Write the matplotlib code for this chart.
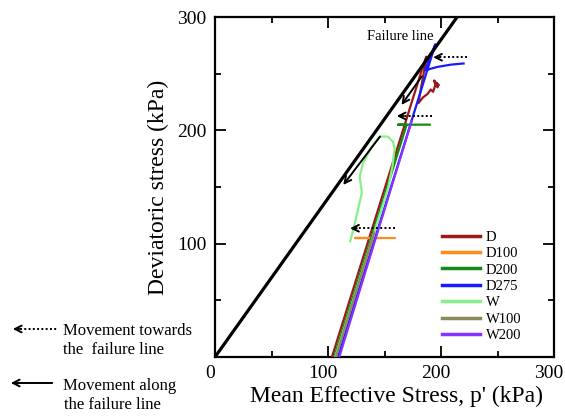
import matplotlib
matplotlib.use("Agg")
import matplotlib.pyplot as plt
from matplotlib.transforms import ScaledTranslation

# ---- data (p', q in kPa) ----
D_p = [103.5, 182, 184, 187, 185, 181, 180, 184, 188, 191, 193, 195, 194, 197, 196, 198]
D_q = [0, 250, 257, 265, 252, 230, 224, 229, 232, 236, 234, 240, 244, 238, 242, 240]

D100_p = [107.5, 140, 124, 159]
D100_q = [0, 105, 105, 105]

D200_p = [105.5, 169.6, 162, 190]
D200_q = [0, 205, 205, 205]

D275_p = [109, 195, 190, 186, 197, 209, 220]
D275_q = [0, 276, 264, 253, 256, 258, 259]

W_p = [106.5, 153.4, 157, 158.5, 159, 157.5, 153, 146, 138.6, 131, 128, 130, 126.5, 122, 119.5]
W_q = [0, 150, 168, 180, 184, 190, 194.5, 194.5, 185.6, 171, 159, 145, 130, 110.6, 102]

W100_p = [107, 141]
W100_q = [0, 110]

W200_p = [110, 174]
W200_q = [0, 208]

series = [
    ("D", D_p, D_q, "#9a1a1a"),
    ("D100", D100_p, D100_q, "#ff8c1a"),
    ("D200", D200_p, D200_q, "#138a13"),
    ("D275", D275_p, D275_q, "#1a1aff"),
    ("W", W_p, W_q, "#88f088"),
    ("W100", W100_p, W100_q, "#8b8b5a"),
    ("W200", W200_p, W200_q, "#8833ff"),
]

M = 1.4  # failure line slope q/p'
fail_p = [0, 300 / M]
fail_q = [0, 300]

dotted_arrows = [((222.7, 264.5), (193, 264.5)),
                 ((191.7, 212.7), (160.8, 212.7)),
                 ((159, 113.6), (119.5, 113.6))]
solid_arrows = [((183, 247.6), (165, 222.4)),
                ((146, 194.5), (113.5, 151.8))]

xticks = [0, 100, 200, 300]
yticks = [0, 100, 200, 300]

plt.rcParams['font.family'] = ['Liberation Serif', 'DejaVu Serif']

fig = plt.figure(figsize=(5.65, 4.17), dpi=100)
ax = fig.add_axes([215 / 565, 1 - 357 / 417, (554 - 215) / 565, (357 - 17) / 417])

ax.plot(fail_p, fail_q, color="black", lw=2.3, solid_capstyle="butt", zorder=5)
for name, p, q, c in series:
    ax.plot(p, q, color=c, lw=1.6, label=name, zorder=3)

ax.text(163.7, 282.4, "Failure line", fontsize=10.5, ha="center", va="center", zorder=6)

for (x0, y0), (x1, y1) in dotted_arrows:
    ax.plot([x0, x1 + 3], [y0, y1], color="black", lw=1.4, ls=(0, (1, 1.2)), zorder=6)
    ax.annotate("", xy=(x1, y1), xytext=(x1 + 6, y1),
                arrowprops=dict(arrowstyle="->", lw=1.4, color="black",
                                mutation_scale=12, shrinkA=0, shrinkB=0), zorder=6)
for (x0, y0), (x1, y1) in solid_arrows:
    ax.annotate("", xy=(x1, y1), xytext=(x0, y0),
                arrowprops=dict(arrowstyle="->", lw=1.4, color="black",
                                mutation_scale=12, shrinkA=0, shrinkB=0), zorder=6)

ax.set_xlim(0, 300)
ax.set_ylim(0, 300)
ax.set_xticks(xticks)
ax.set_yticks(yticks)
ax.set_xticks([50, 150, 250], minor=True)
ax.set_yticks([50, 150, 250], minor=True)
ax.set_yticklabels(["", "100", "200", "300"])
ax.tick_params(which="both", direction="in", top=True, right=True, width=1.3, labelsize=14)
ax.tick_params(which="major", length=8, pad=6)
ax.tick_params(which="minor", length=4.5)
for s in ax.spines.values():
    s.set_linewidth(1.6)
shift = ScaledTranslation(-5 / 100, 0, fig.dpi_scale_trans)
for lbl in ax.get_xticklabels():
    lbl.set_transform(lbl.get_transform() + shift)

ax.set_xlabel("Mean Effective Stress, p' (kPa)", fontsize=17, labelpad=2)
ax.xaxis.set_label_coords(0.534, -0.085)
ax.set_ylabel("Deviatoric stress (kPa)", fontsize=17, labelpad=6)

leg = ax.legend(loc="upper left", bbox_to_anchor=(0.669, 0.372), frameon=False,
                fontsize=10.5, handlelength=2.6, handletextpad=0.4, labelspacing=0.22,
                borderpad=0, borderaxespad=0)
for h in leg.get_lines():
    h.set_linewidth(2.5)

# outside annotations (figure pixel coords converted to fractions)
W_, H_ = 565, 417
def fx(x): return x / W_
def fy(y): return 1 - y / H_

fig.add_artist(matplotlib.lines.Line2D([fx(20), fx(58)], [fy(329), fy(329)],
                                       color="black", lw=1.4, ls=(0, (1, 1.2))))
fig.add_artist(matplotlib.patches.FancyArrowPatch((fx(22), fy(329)), (fx(10), fy(329)),
                                                  transform=fig.transFigure, arrowstyle="->",
                                                  mutation_scale=12, lw=1.4, color="black"))
fig.add_artist(matplotlib.patches.FancyArrowPatch((fx(55), fy(383)), (fx(8), fy(383)),
                                                  transform=fig.transFigure, arrowstyle="->",
                                                  mutation_scale=12, lw=1.4, color="black"))
fig.text(fx(63), fy(331), "Movement towards", fontsize=12, va="center", ha="left")
fig.text(fx(63), fy(350), "the  failure line", fontsize=12, va="center", ha="left")
fig.text(fx(63), fy(386), "Movement along", fontsize=12, va="center", ha="left")
fig.text(fx(64), fy(405), "the failure line", fontsize=12, va="center", ha="left")

fig.savefig("out.png", dpi=100)
